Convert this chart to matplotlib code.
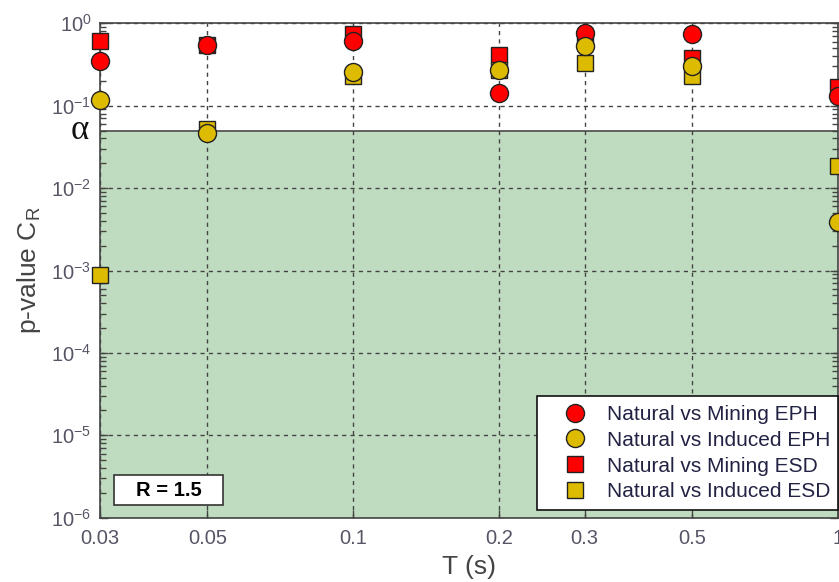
import matplotlib
matplotlib.use("Agg")
import matplotlib.pyplot as plt
import matplotlib.transforms as mtransforms
from matplotlib.patches import Rectangle
from matplotlib.ticker import FixedLocator, FixedFormatter, LogLocator, NullLocator, NullFormatter

plt.rcParams['font.family'] = ['Liberation Sans', 'DejaVu Sans']
plt.rcParams['mathtext.fontset'] = 'custom'
plt.rcParams['mathtext.rm'] = 'Liberation Sans'
plt.rcParams['mathtext.it'] = 'Liberation Sans:italic'

# ---------------- data ----------------
periods = [0.03, 0.05, 0.1, 0.2, 0.3, 0.5, 1.0]
mining_eph = [0.35, 0.54, 0.61, 0.141, 0.77, 0.75, 0.13]
induced_eph = [0.117, 0.046, 0.26, 0.27, 0.53, 0.30, 0.0039]
mining_esd = [0.61, 0.55, 0.75, 0.41, 0.65, 0.38, 0.17]
induced_esd = [0.00087, 0.052, 0.23, 0.27, 0.33, 0.23, 0.0188]
alpha_level = 0.05
xtick_vals = [0.03, 0.05, 0.1, 0.2, 0.3, 0.5, 1]
xtick_labels = ['0.03', '0.05', '0.1', '0.2', '0.3', '0.5', '1']
series_labels = ['Natural vs Mining EPH', 'Natural vs Induced EPH',
                 'Natural vs Mining ESD', 'Natural vs Induced ESD']
r_label = 'R = 1.5'

RED = '#FF0000'
YEL = '#DDBB00'
GREEN = '#C0DCC0'
EDGE = '#222222'
TXT = '#555566'

W, H = 839, 582
fig = plt.figure(figsize=(W / 100, H / 100), dpi=100)
ax = fig.add_axes([99.7 / W, (H - 517.7) / H, (838.3 - 99.7) / W, (517.7 - 23.3) / H])
ax.set_xscale('log')
ax.set_yscale('log')
ax.set_xlim(0.03, 1.0)
ax.set_ylim(1e-6, 1.0)

# significance region
ax.axhspan(1e-6, alpha_level, color=GREEN, zorder=0, lw=0)
ax.axhline(alpha_level, color='#555555', lw=1.3, zorder=1)

# grid
ax.xaxis.set_major_locator(FixedLocator(xtick_vals))
ax.xaxis.set_major_formatter(FixedFormatter(xtick_labels))
ax.xaxis.set_minor_locator(NullLocator())
ax.xaxis.set_minor_formatter(NullFormatter())
ax.yaxis.set_major_locator(LogLocator(base=10, numticks=20))
ax.yaxis.set_minor_locator(LogLocator(base=10, subs=range(2, 10), numticks=20))
ax.grid(True, which='major', color='#444444', ls=(0, (3, 3)), lw=1.0, zorder=1)
ax.set_axisbelow(False)

ms_c = 13
ms_s = 11
kw = dict(ls='none', mec=EDGE, mew=1.0, zorder=3, clip_on=False)
h3, = ax.plot(periods, mining_esd, marker='s', ms=ms_s, mfc=RED, label=series_labels[2], **kw)
h4, = ax.plot(periods, induced_esd, marker='s', ms=ms_s, mfc=YEL, label=series_labels[3], **kw)
h1, = ax.plot(periods, mining_eph, marker='o', ms=ms_c, mfc=RED, label=series_labels[0], **kw)
h2, = ax.plot(periods, induced_eph, marker='o', ms=ms_c, mfc=YEL, label=series_labels[1], **kw)

for s in ax.spines.values():
    s.set_color('#444444')
    s.set_linewidth(1.2)

ax.tick_params(which='both', direction='in', top=False, right=True, colors='#444444',
               labelcolor=TXT, labelsize=14.5)
ax.tick_params(which='major', length=6, width=1)
ax.tick_params(which='minor', length=4, width=1)
ax.tick_params(axis='x', pad=8)
ax.tick_params(axis='y', pad=6)

ax.set_xlabel('T (s)', fontsize=19, color='#444444', labelpad=5)
ax.set_ylabel(r'p-value C$_\mathregular{R}$', fontsize=19, color='#444444', labelpad=6)

trans = mtransforms.blended_transform_factory(ax.transAxes, ax.transData)
ax.text(-0.027, alpha_level, '\u03b1', transform=trans, ha='center', va='center',
        fontsize=25, color='#111111', family=['Liberation Serif', 'DejaVu Serif'])

# R label box
ax.add_patch(Rectangle((0.0194, 0.0257), 0.1475, 0.0607, transform=ax.transAxes,
                       fc='white', ec='#333333', lw=1.2, zorder=5))
ax.text(0.0932, 0.056, r_label, transform=ax.transAxes, ha='center', va='center',
        fontsize=14.5, fontweight='bold', color='black', zorder=6)

leg = ax.legend(handles=[h1, h2, h3, h4], loc='lower right', bbox_to_anchor=(1.0, 0.016),
                borderaxespad=0, fontsize=15, frameon=True, fancybox=False,
                framealpha=1, edgecolor='#111111', labelspacing=0.33,
                handletextpad=0.12, borderpad=0.4, handlelength=2.8)
leg.get_frame().set_linewidth(1.2)
for t in leg.get_texts():
    t.set_color('#222244')
leg.set_zorder(6)

fig.savefig('out.png', dpi=100)
